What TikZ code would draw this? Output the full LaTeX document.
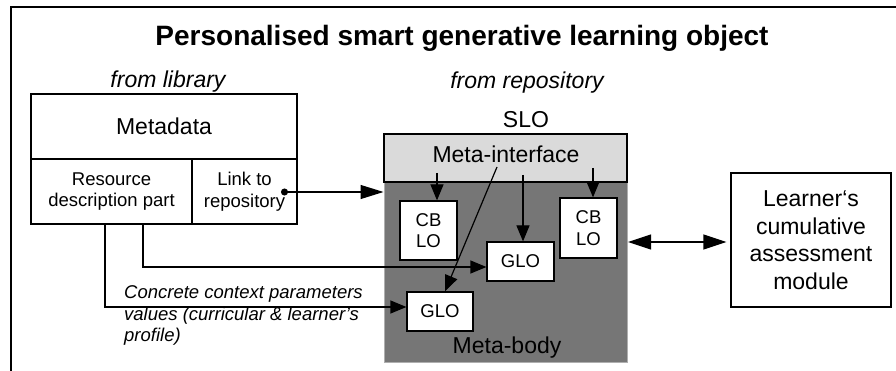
\documentclass[tikz,border=0pt]{standalone}
\usepackage{fontspec}
\setmainfont{Liberation Sans}
\usetikzlibrary{arrows.meta,calc}
\definecolor{ifacegray}{RGB}{218,218,218}
\definecolor{bodygray}{RGB}{118,118,118}
\definecolor{bodyedge}{RGB}{175,175,175}
\begin{document}
\begin{tikzpicture}[x=1pt,y=-1pt,
  box/.style={draw=black, line width=1.2pt, fill=white, inner sep=0pt, align=center},
  small/.style={font=\fontsize{18.5}{21.5}\selectfont},
  big/.style={font=\fontsize{23}{27.5}\selectfont},
  bigit/.style={font=\fontsize{23}{27.5}\selectfont\itshape},
  arr/.style={line width=1.2pt, -{Triangle[length=16pt,width=13pt]}},
  ]
\useasboundingbox (0,0) rectangle (896,371);
\draw[line width=2pt] (11,371) -- (11,7) -- (896,7);

\node[font=\fontsize{28}{32}\selectfont\bfseries, anchor=base, inner sep=0pt] (title) at (462,46) {Personalised smart generative learning object};

\node[bigit, anchor=base, inner sep=0pt] (fromlib) at (168,88) {from library};
\node[bigit, anchor=base, inner sep=0pt] (fromrep) at (527,89) {from repository};

\node[box, big, minimum width=266pt, minimum height=65pt] (meta) at (164,126.5) {Metadata};
\node[box, small, minimum width=161pt, minimum height=65pt] (res) at (111.5,191.5) {Resource\\description part};
\node[box, small, minimum width=105pt, minimum height=65pt] (link) at (244.5,191.5) {Link to\\repository};

\node[big, anchor=base, inner sep=0pt] (slo) at (526,128) {SLO};
\node[draw=bodyedge, line width=1pt, fill=bodygray, minimum width=243pt, minimum height=180pt, inner sep=0pt] (body) at (505.5,272) {};
\node[draw=black, line width=1.2pt, fill=ifacegray, minimum width=243pt, minimum height=48pt, inner sep=0pt] (iface) at (505.5,158) {};
\node[big, anchor=base, inner sep=0pt] (ifacetxt) at (506,163) {Meta-interface};
\node[big, anchor=base, inner sep=0pt] (bodytxt) at (507,353) {Meta-body};

\node[box, small, minimum width=57pt, minimum height=59pt] (cb1) at (428.5,230.5) {CB\\LO};
\node[box, small, minimum width=57pt, minimum height=60pt] (cb2) at (588.5,228) {CB\\LO};
\node[box, small, minimum width=67pt, minimum height=39pt] (glo1) at (520.5,261.5) {GLO};
\node[box, small, minimum width=66pt, minimum height=39pt] (glo2) at (440,311.5) {GLO};

\node[box, big, minimum width=160pt, minimum height=134pt] (learn) at (811,240) {Learner‘s\\cumulative\\assessment\\module};

\node[font=\fontsize{18.5}{21.5}\selectfont\itshape, align=left, anchor=north west, inner sep=0pt] (ctx) at (124,285.5) {Concrete context parameters\\values (curricular \& learner’s\\profile)};

\coordinate (mia) at (437,173);
\coordinate (mib) at (523,175);
\coordinate (mic) at (593,168);
\coordinate (mid) at (497,167);
\coordinate (dot) at (281,192);
\coordinate (dbl) at (0,242);

\draw[arr] (mia) -- (mia |- cb1.north);
\draw[arr] (mib) -- (mib |- glo1.north);
\draw[arr] (mic) -- (mic |- cb2.north);
\draw[arr] (mid) -- ([xshift=5pt]glo2.north);
\draw[line width=1.2pt, {Circle[length=7pt]}-{Triangle[length=23pt,width=14pt]}] (dot) -- (dot -| body.west);
\draw[arr] ([xshift=-6.5pt]res.south) |- ([yshift=4.5pt]glo2.west);
\draw[arr] ([xshift=31.5pt]res.south) |- ([yshift=-5.5pt]glo1.west);
\draw[line width=1.2pt, {Triangle[length=23pt,width=15pt]}-{Triangle[length=23pt,width=15pt]}, shorten <=0.5pt, shorten >=4pt] (body.east |- dbl) -- (learn.west |- dbl);
\end{tikzpicture}
\end{document}
